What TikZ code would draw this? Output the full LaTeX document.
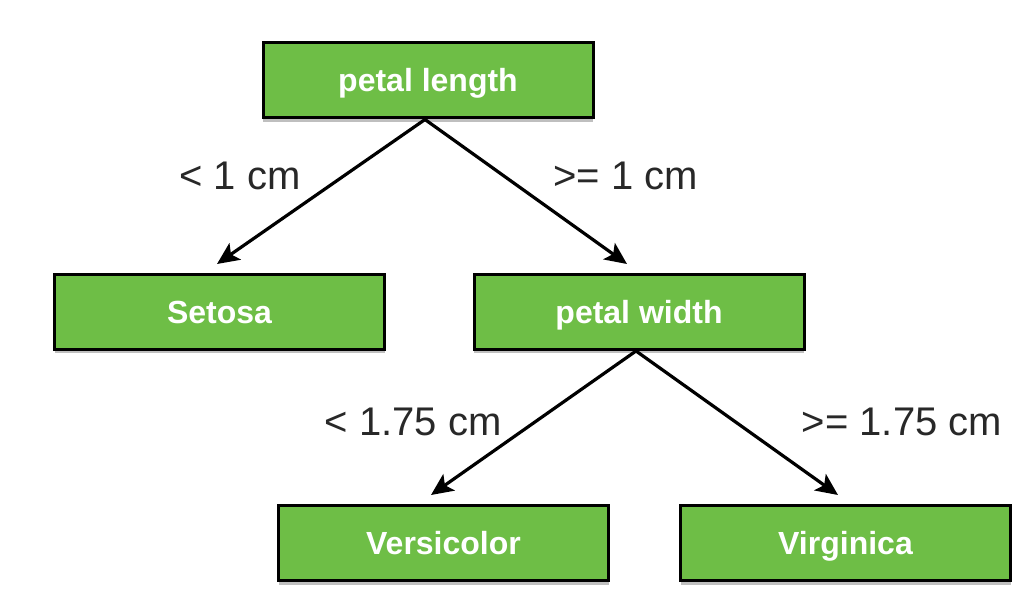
\documentclass[tikz,border=0pt]{standalone}
\usepackage{fontspec}
\setmainfont{Liberation Sans}
\usetikzlibrary{arrows.meta,shadows}
\definecolor{boxgreen}{RGB}{110,190,70}
\definecolor{labelgray}{RGB}{40,40,40}
\begin{document}
\begin{tikzpicture}[x=1pt,y=-1pt,
  leaf/.style={draw=black,line width=3pt,fill=boxgreen,minimum width=330pt,minimum height=75pt,
    inner sep=0pt,text=white,font=\fontsize{32}{36}\selectfont\bfseries,
    text height=23pt,text depth=0pt,
    drop shadow={shadow xshift=0pt,shadow yshift=-4pt,fill=black,opacity=0.25}},
  edge/.style={line width=3.2pt,-{Stealth[length=22pt,width=20pt,inset=5pt]}},
  cond/.style={text=labelgray,font=\fontsize{40}{44}\selectfont,inner sep=0pt,
    text height=28.6pt,text depth=0pt}]
\useasboundingbox (0,0) rectangle (1034,602);
\node[leaf] (pl) at (428,80) {petal length};
\node[leaf] (se) at (219.5,311.5) {Setosa};
\node[leaf] (pw) at (639,311.5) {petal width};
\node[leaf] (ve) at (443.5,543) {Versicolor};
\node[leaf] (vi) at (845.5,543) {Virginica};
\coordinate (a1) at (217,264);
\coordinate (a2) at (627,264);
\coordinate (a3) at (431,495);
\coordinate (a4) at (838,495);
\draw[edge] (425,119.5) -- (a1);
\draw[edge] (425,119.5) -- (a2);
\draw[edge] (636,351) -- (a3);
\draw[edge] (636,351) -- (a4);
\node[cond] (c1) at (240,175) {< 1 cm};
\node[cond] (c2) at (625.5,175) {>= 1 cm};
\node[cond] (c3) at (413,421) {< 1.75 cm};
\node[cond] (c4) at (902,421) {>= 1.75 cm};
\end{tikzpicture}
\end{document}
